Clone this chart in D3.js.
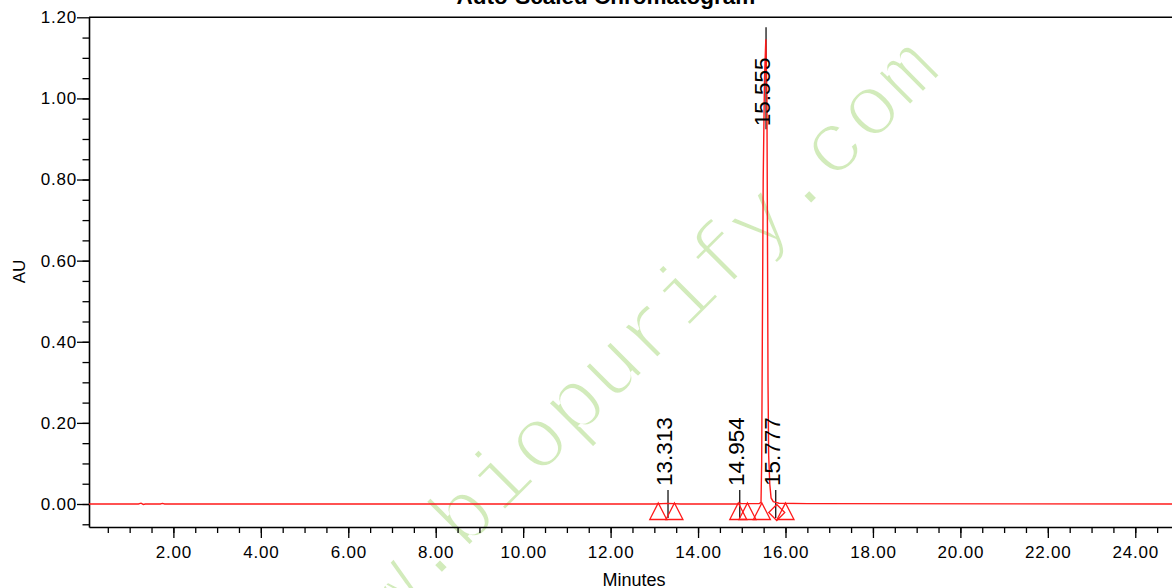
<!DOCTYPE html>
<html><head><meta charset="utf-8">
<script src="https://cdn.jsdelivr.net/npm/d3@7/dist/d3.min.js"></script>
<style>html,body{margin:0;padding:0;background:#fff;overflow:hidden}</style>
</head><body>
<svg id="c" width="1172" height="588"></svg>
<script>
const titleText = "Auto-Scaled Chromatogram";
const xLabel = "Minutes";
const yLabel = "AU";
const watermark = "www.biopurify.com";

// chromatogram trace (minutes, AU)
const times = [0.07, 1.20, 1.26, 1.31, 1.36, 1.70, 1.75, 1.80, 13.00, 13.31, 13.60, 14.90, 14.95, 15.00, 15.40, 15.44, 15.455, 15.47, 15.49, 15.52, 15.55, 15.575, 15.59, 15.60, 15.615, 15.64, 15.67, 15.72, 15.78, 15.85, 16.50, 24.84];
const au    = [0, 0, 0.002, -0.001, 0, 0, 0.0015, 0, 0, 0.0015, 0, 0, 0.002, 0.001, 0.001, 0.004, 0.10, 0.40, 0.80, 1.05, 1.146, 1.00, 0.60, 0.30, 0.12, 0.05, 0.015, 0.006, 0.004, 0.002, 0.001, 0];

const peakTimes  = [13.313, 14.954, 15.555, 15.777];
const peakLabels = ["13.313", "14.954", "15.555", "15.777"];
const triangleTimes = [13.09, 13.46, 14.92, 15.13, 15.46, 16.00];
const diamondTimes  = [15.80];

const xMajorTicks = [2, 4, 6, 8, 10, 12, 14, 16, 18, 20, 22, 24];
const xMinorTicks = d3.range(0.5, 24.8, 0.5);
const yMajorTicks = [0, 0.2, 0.4, 0.6, 0.8, 1.0, 1.2];
const yMinorTicks = d3.range(-0.05, 1.2, 0.05);

const svg = d3.select("#c");
const x = d3.scaleLinear().domain([0.07, 24.84]).range([89, 1172]);
const y = d3.scaleLinear().domain([-0.0567, 1.2]).range([527, 17.3]);
const font = "'Liberation Sans', Arial, sans-serif";

// watermark (thin light-green strokes)
svg.append("text")
  .attr("transform", "translate(630,386) rotate(-45)")
  .attr("text-anchor", "middle")
  .style("font-family", "'Liberation Mono', monospace")
  .style("font-size", "87px")
  .attr("fill", "#d2ebbb")
  .attr("stroke", "#fff")
  .attr("stroke-width", 3.2)
  .text(watermark);

// y axis
const yMinor = svg.append("g").attr("transform", "translate(89,0)")
  .call(d3.axisLeft(y).tickValues(yMinorTicks).tickSize(6.5).tickFormat(""));
yMinor.select(".domain").remove();
const yAxis = svg.append("g").attr("transform", "translate(89,0)")
  .call(d3.axisLeft(y).tickValues(yMajorTicks).tickSize(12).tickSizeOuter(0).tickPadding(0).tickFormat(d3.format(".2f")));
yAxis.selectAll("text").style("font-family", font).style("font-size", "17px").style("letter-spacing", "0.8px").attr("fill", "#000");

// x axis
const xMinor = svg.append("g").attr("transform", "translate(0,527)")
  .call(d3.axisBottom(x).tickValues(xMinorTicks).tickSize(6).tickFormat(""));
xMinor.select(".domain").remove();
const xAxis = svg.append("g").attr("transform", "translate(0,527)")
  .call(d3.axisBottom(x).tickValues(xMajorTicks).tickSize(11).tickSizeOuter(0).tickPadding(8).tickFormat(d3.format(".2f")));
xAxis.selectAll("text").style("font-family", font).style("font-size", "17px").style("letter-spacing", "0.8px").attr("fill", "#000");

svg.selectAll(".domain").attr("stroke", "#000").attr("stroke-width", 1.6);
svg.selectAll(".tick line").attr("stroke", "#000").attr("stroke-width", 1.3);

// top frame
svg.append("line").attr("x1", 89).attr("x2", 1172).attr("y1", y(1.2)).attr("y2", y(1.2))
  .attr("stroke", "#000").attr("stroke-width", 1.6);

// peak apex heights from the trace
function apexNear(t) {
  let best = 0;
  times.forEach((tt, i) => { if (Math.abs(tt - t) < 0.06) best = Math.max(best, au[i]); });
  return best;
}

const peakInfo = peakTimes.map((t, i) => {
  const a = apexNear(t);
  const big = a > 0.5;
  return {
    t, label: peakLabels[i],
    lineTop: big ? y(a) - 12 : y(0) - 14,
    lineBot: big ? y(a) + 90 : y(0) + 14,
    labelY: big ? y(a) + 87 : y(0) - 18
  };
});
svg.append("g").selectAll("line").data(peakInfo).join("line")
  .attr("x1", d => x(d.t)).attr("x2", d => x(d.t))
  .attr("y1", d => d.lineTop).attr("y2", d => d.lineBot)
  .attr("stroke", "#000").attr("stroke-width", 1.2);

// trace
const pts = times.map((t, i) => [t, au[i]]);
svg.append("path").datum(pts)
  .attr("d", d3.line().x(d => x(d[0])).y(d => y(d[1])))
  .attr("fill", "none").attr("stroke", "#ff1a1a").attr("stroke-width", 1.4);

// integration markers
const y0 = y(0);
svg.append("g").selectAll("path").data(triangleTimes).join("path")
  .attr("d", t => { const cx = x(t); return `M${cx},${y0 - 1}L${cx + 8.5},${y0 + 15.5}L${cx - 8.5},${y0 + 15.5}Z`; })
  .attr("fill", "none").attr("stroke", "#ff1a1a").attr("stroke-width", 1.3);
svg.append("g").selectAll("path").data(diamondTimes).join("path")
  .attr("d", t => { const cx = x(t), cy = y0 + 8.5; return `M${cx},${cy - 8}L${cx + 8},${cy}L${cx},${cy + 8}L${cx - 8},${cy}Z`; })
  .attr("fill", "none").attr("stroke", "#ff1a1a").attr("stroke-width", 1.3);

// peak labels
svg.append("g").selectAll("text").data(peakInfo).join("text")
  .attr("transform", d => `translate(${x(d.t) + 4},${d.labelY}) rotate(-90)`)
  .attr("text-anchor", "start")
  .style("font-family", font).style("font-size", "22.5px")
  .attr("fill", "#000")
  .text(d => d.label);

// titles (title is clipped at the top edge, as in the reference)
svg.append("text").attr("x", 606).attr("y", 4).attr("text-anchor", "middle")
  .style("font-family", font).style("font-size", "22.5px").style("font-weight", "bold")
  .text(titleText);
svg.append("text").attr("transform", "translate(25,271.5) rotate(-90)").attr("text-anchor", "middle")
  .style("font-family", font).style("font-size", "17px").text(yLabel);
svg.append("text").attr("x", 634).attr("y", 586).attr("text-anchor", "middle")
  .style("font-family", font).style("font-size", "18px").text(xLabel);
</script>
</body></html>
